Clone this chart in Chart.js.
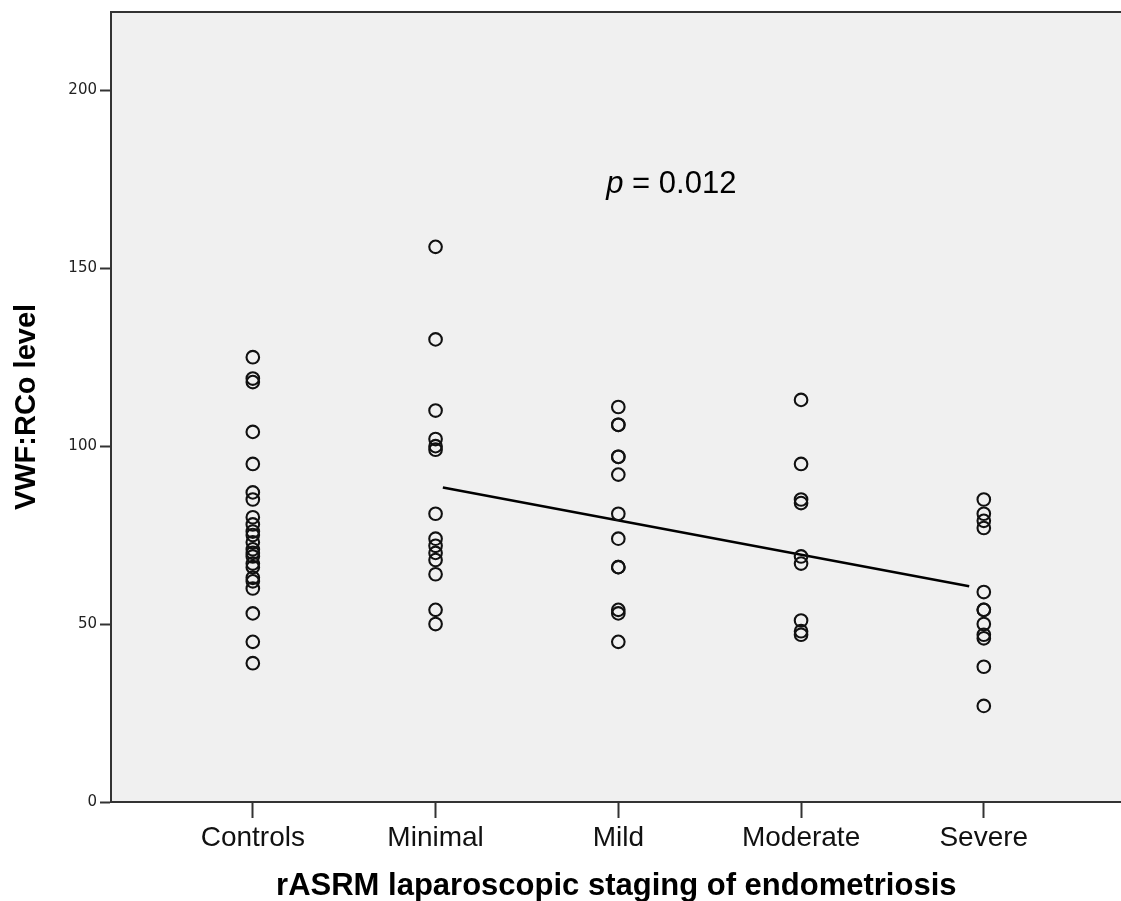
<!DOCTYPE html>
<html>
<head>
<meta charset="utf-8">
<script src="https://cdn.jsdelivr.net/npm/chart.js@4/dist/chart.umd.min.js"></script>
<style>
  html, body { margin: 0; padding: 0; background: #fff; overflow: hidden; }
  #wrap { position: absolute; left: 0; top: 0; width: 1130px; height: 901px; }
</style>
</head>
<body>
<div id="wrap"><canvas id="chart" width="1130" height="901"></canvas></div>
<script>
// categories on the x axis
var categories = ['Controls', 'Minimal', 'Mild', 'Moderate', 'Severe'];

// VWF:RCo values per group
var controls = [125, 119, 118, 104, 95, 87, 85, 80, 78, 76, 75, 73, 71, 70, 69, 67, 66, 63, 62, 60, 53, 45, 39];
var minimal  = [156, 130, 110, 102, 100, 99, 81, 74, 72, 70, 68, 64, 54, 50];
var mild     = [111, 106, 106, 97, 97, 92, 81, 74, 66, 66, 54, 53, 45];
var moderate = [113, 95, 85, 84, 69, 67, 51, 48, 47];
var severe   = [85, 81, 79, 77, 59, 54, 54, 50, 47, 46, 38, 27];

// fitted trend line, Minimal .. Severe
var trendX = [2.04, 4.92];
var trendY = [88.4, 60.6];

var yTicks = [0, 50, 100, 150, 200];

var groups = [controls, minimal, mild, moderate, severe];
var points = [];
groups.forEach(function (vals, i) {
    vals.forEach(function (v) { points.push({ x: i + 1, y: v }); });
});
var trend = trendX.map(function (x, i) { return { x: x, y: trendY[i] }; });

var frame = {
    id: 'frame',
    beforeDraw: function (chart) {
        var c = chart.ctx, a = chart.chartArea;
        c.save();
        c.fillStyle = '#ffffff';
        c.fillRect(0, 0, chart.width, chart.height);
        c.fillStyle = '#f0f0f0';
        c.fillRect(a.left, a.top, a.right - a.left, a.bottom - a.top);
        c.strokeStyle = '#333';
        c.lineWidth = 2;
        c.beginPath();
        c.moveTo(a.left, a.top);
        c.lineTo(a.right, a.top);
        c.stroke();
        c.restore();
    },
    afterDatasetsDraw: function (chart) {
        // "p = 0.012" label
        var c = chart.ctx;
        var x = chart.scales.x.getPixelForValue(3.29);
        var y = chart.scales.y.getPixelForValue(171);
        var italic = 'italic 31px "Liberation Sans", Arial, sans-serif';
        var normal = '31px "Liberation Sans", Arial, sans-serif';
        c.save();
        c.fillStyle = '#000';
        c.textBaseline = 'alphabetic';
        c.font = italic;
        var wp = c.measureText('p').width;
        c.font = normal;
        var wr = c.measureText(' = 0.012').width;
        var x0 = x - (wp + wr) / 2;
        c.font = italic;
        c.fillText('p', x0, y);
        c.font = normal;
        c.fillText(' = 0.012', x0 + wp, y);
        c.restore();
    }
};

new Chart(document.getElementById('chart').getContext('2d'), {
    type: 'scatter',
    data: {
        datasets: [
            {
                label: 'VWF:RCo',
                data: points,
                pointStyle: 'circle',
                pointRadius: 6.3,
                pointHoverRadius: 6.3,
                pointBorderWidth: 2.1,
                pointBorderColor: '#111',
                pointBackgroundColor: 'rgba(0,0,0,0)'
            },
            {
                type: 'line',
                label: 'Fit',
                data: trend,
                borderColor: '#000',
                borderWidth: 2.5,
                pointRadius: 0,
                fill: false
            }
        ]
    },
    options: {
        responsive: false,
        animation: false,
        layout: { padding: { top: 9, left: 0, right: 0, bottom: 0 } },
        plugins: {
            legend: { display: false },
            tooltip: { enabled: false }
        },
        scales: {
            x: {
                type: 'linear',
                min: 0.224,
                max: 5.754,
                afterBuildTicks: function (axis) {
                    axis.ticks = categories.map(function (c, i) { return { value: i + 1 }; });
                },
                afterFit: function (axis) { axis.height = 99; },
                grid: { drawOnChartArea: false, drawTicks: true, tickLength: 16, tickColor: '#333', tickWidth: 2 },
                border: { display: true, color: '#333', width: 2 },
                ticks: {
                    padding: 3,
                    color: '#111',
                    font: { family: '"Liberation Sans", Arial, sans-serif', size: 28 },
                    callback: function (v) { return categories[v - 1]; }
                },
                title: {
                    display: true,
                    text: 'rASRM laparoscopic staging of endometriosis',
                    color: '#000',
                    font: { family: '"Liberation Sans", Arial, sans-serif', size: 31, weight: 'bold', lineHeight: 1 },
                    padding: { top: 0, bottom: -1 }
                }
            },
            y: {
                min: 0,
                max: 222,
                afterBuildTicks: function (axis) {
                    axis.ticks = yTicks.map(function (v) { return { value: v }; });
                },
                afterFit: function (axis) { axis.width = 111; },
                grid: { drawOnChartArea: false, drawTicks: true, tickLength: 11, tickColor: '#333', tickWidth: 2 },
                border: { display: true, color: '#333', width: 2 },
                ticks: {
                    padding: 3,
                    color: '#222',
                    font: { family: '"DejaVu Sans", sans-serif', size: 15 }
                },
                title: {
                    display: true,
                    text: 'VWF:RCo level',
                    color: '#000',
                    font: { family: '"Liberation Sans", Arial, sans-serif', size: 29, weight: 'bold' },
                    padding: { top: 10, bottom: 0 }
                }
            }
        }
    },
    plugins: [frame]
});
</script>
</body>
</html>
